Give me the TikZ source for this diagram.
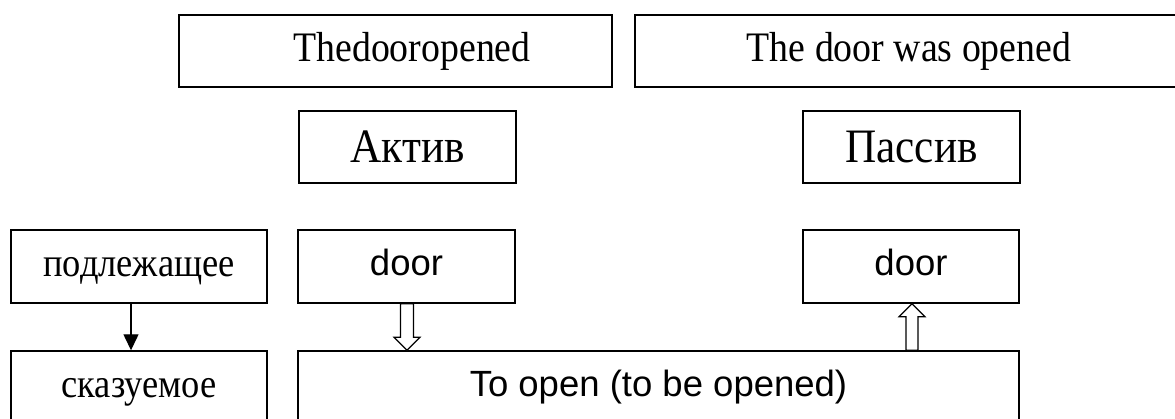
\documentclass[tikz,border=0pt]{standalone}
\usepackage{fontspec}
\setmainfont{Liberation Serif}
\newfontfamily\tnr[FakeStretch=0.9]{Liberation Serif}
\newfontfamily\arl{Liberation Sans}
\usetikzlibrary{arrows.meta,calc}

\tikzset{
  box/.style={draw, line width=1.4pt, rectangle, inner sep=0pt, minimum height=72pt},
  toprow/.style={box, text height=29.4pt, text depth=8.4pt,
              font=\tnr\fontsize{42pt}{44pt}\selectfont},
  voicebox/.style={box, minimum width=217pt, text height=31.7pt, text depth=0pt,
              font=\tnr\fontsize{48pt}{50pt}\selectfont},
  rusbox/.style={box, minimum width=256pt, minimum height=73pt,
              text height=28.4pt, text depth=8.1pt,
              font=\tnr\fontsize{40.5pt}{42pt}\selectfont},
  engbox/.style={box, minimum height=73pt, text height=25.6pt, text depth=7.3pt,
              font=\arl\fontsize{36.5pt}{38pt}\selectfont},
  solidarrow/.style={line width=1.3pt, -{Triangle[width=15pt,length=16pt]}},
  hollowarrow/.style={draw, fill=white, line width=1.2pt, line join=miter}
}

\begin{document}
\begin{tikzpicture}[x=1pt,y=-1pt]
\useasboundingbox (0,0) rectangle (1175,419);
\clip (0,0) rectangle (1175,419);
\fill[white] (0,0) rectangle (1175,419);

% top row
\node[toprow, minimum width=433pt] (t1) at (395.5,51) {\hspace*{33pt}Thedooropened};
\node[toprow, minimum width=548pt] (t2) at (909,51) {The door was opened};

% voice row
\node[voicebox] (a1) at (407.5,147) {Актив};
\node[voicebox] (a2) at (911.5,147) {Пассив};

% third row
\node[rusbox] (p1) at (139,266.5) {подлежащее};
\node[engbox, minimum width=217pt] (d1) at (406.5,266.5) {door};
\node[engbox, minimum width=216pt] (d2) at (911,266.5) {door};

% bottom row
\node[rusbox] (s1) at (139,387.5) {сказуемое};
\node[engbox, minimum width=721pt] (o1) at (658.5,387.5) {To open (to be opened)};

% solid arrow
\coordinate (sa) at ($(p1.south)+(-8,0)$);
\draw[solidarrow] (sa) -- (sa |- s1.north);

% hollow arrow down
\coordinate (la) at ($(d1.south)+(0.5,0)$);
\coordinate (lt) at (la |- o1.north);
\draw[hollowarrow] ($(la)+(-6.5,0)$) -- ($(lt)+(-6.5,-13)$) -- ($(lt)+(-13,-13)$)
  -- (lt) -- ($(lt)+(13,-13)$) -- ($(lt)+(6.5,-13)$) -- ($(la)+(6.5,0)$) -- cycle;

% hollow arrow up
\coordinate (rt) at ($(d2.south)+(1,0)$);
\coordinate (rb) at (rt |- o1.north);
\draw[hollowarrow] ($(rb)+(-6,0)$) -- ($(rt)+(-6,13)$) -- ($(rt)+(-13,13)$)
  -- (rt) -- ($(rt)+(13,13)$) -- ($(rt)+(6,13)$) -- ($(rb)+(6,0)$) -- cycle;
\end{tikzpicture}
\end{document}
